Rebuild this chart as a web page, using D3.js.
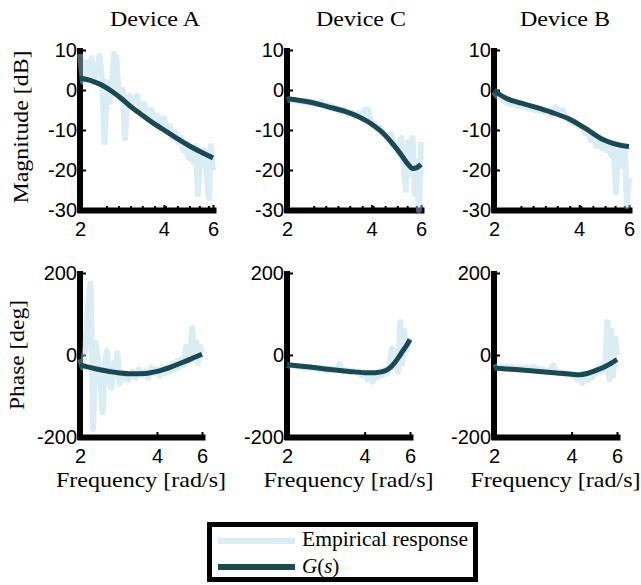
<!DOCTYPE html>
<html><head><meta charset="utf-8">
<script src="https://cdn.jsdelivr.net/npm/d3@7"></script>
<style>body{margin:0;background:#fff}</style>
</head><body><svg id="c" width="641" height="585"></svg>
<script>
// ---------- data ----------
const titles = ["Device A", "Device C", "Device B"];
const xTicks = [2, 4, 6];
const xMinorTicks = [2.5, 2.76, 3.05, 3.36, 3.72, 4.07, 4.49, 4.96, 5.38, 5.8];
const magTicks = [10, 0, -10, -20, -30];
const phaseTicks = [200, 0, -200];

const FREQ = [2.00,2.05,2.10,2.15,2.20,2.25,2.30,2.35,2.40,2.45,2.50,2.55,2.60,2.65,2.70,2.75,2.80,2.85,2.90,2.95,3.00,
  3.1,3.2,3.3,3.4,3.5,3.6,3.7,3.8,3.9,4.0,4.1,4.2,4.3,4.4,4.5,4.6,4.7,4.8,4.9,5.0,5.1,5.2,5.3,5.4,5.5,5.6,5.7,5.8,5.9,6.0];

const MAG_A_EMP = [9,2,7,3,8,2,5,8.5,3,-13,2,-3,0,9,8,-1,-2,0,-12,-2,-1.5,
  -3,-1.5,-5,-3.5,-6,-5,-7.5,-6.5,-9,-7,-10,-9,-12,-10.5,-13,-12,-15,-14,-17,-15,-18,-14,-26,-16,-19,-15,-22,-27,-14,-20];
const MAG_C_EMP = [-2.5,-2.3,-2.8,-2.6,-2.9,-2.7,-3.1,-2.8,-3.3,-3.0,-3.6,-3.2,-3.5,-2.9,-3.6,-4.2,-3.8,-4.5,-4.0,-4.8,-4.5,
  -5.5,-4.8,-6.0,-5.6,-6.6,-5.8,-7.0,-4.8,-5.0,-8.8,-8.5,-9.8,-9.5,-11.0,-11.2,-12.5,-11.0,-14.5,-13.5,-16,-12,-19,-25,-13,-21,-12,-26,-18,-30,-13];
const MAG_B_EMP = [-0.5,-1.5,-2.0,-2.6,-3.0,-3.2,-3.6,-3.5,-3.9,-4.0,-4.2,-4.0,-4.5,-4.3,-4.8,-4.6,-5.0,-4.8,-5.3,-5.1,-5.5,
  -5.0,-6.2,-4.2,-6.5,-5.0,-7.2,-7.6,-8.2,-8.0,-9.2,-9.5,-10.8,-10.2,-12.5,-11.5,-14.0,-12.8,-14.5,-13.5,-15.0,-14.0,-16.5,-15.0,-25.5,-16.0,-14.5,-19.0,-15.0,-29.0,-22.0];
const PH_A_EMP = [-10,-30,20,120,175,-180,30,-10,-60,-140,-20,10,-60,-80,-20,-50,5,-70,-40,-60,-45,
  -60,-40,-55,-35,-50,-40,-55,-30,-45,-35,-50,-30,-45,-30,-40,-20,-35,-15,-30,-10,-25,20,-15,10,65,-10,30,-20,20,5];
const PH_C_EMP = [-24,-26,-25,-28,-26,-30,-27,-31,-29,-32,-30,-33,-31,-35,-32,-35,-33,-37,-34,-36,-35,
  -38,-22,-40,-37,-41,-38,-44,-40,-50,-42,-60,-45,-65,-48,-55,-40,-50,-35,-45,-25,15,-30,10,-40,80,-20,60,10,30,40];
const PH_B_EMP = [-32,-28,-34,-27,-33,-28,-35,-29,-34,-30,-36,-31,-35,-30,-37,-32,-36,-30,-38,-33,-40,
  -35,-42,-38,-25,-42,-45,-42,-48,-45,-50,-48,-60,-50,-68,-45,-62,-42,-55,-38,-45,-30,-40,-25,-35,80,-60,60,-50,40,0];

const G_MAG_A_F = [2,2.2,2.4,2.6,2.8,3.0,3.3,3.6,4.0,4.5,5.0,5.5,6.0];
const G_MAG_A   = [3,2.3,1.2,-0.3,-2.0,-3.8,-6.0,-7.9,-10,-12.3,-14.2,-15.7,-17];
const G_MAG_C_F = [2,2.4,2.8,3.2,3.6,4.0,4.4,4.8,5.1,5.4,5.6,5.8,6.0];
const G_MAG_C   = [-2.2,-3,-4.2,-5.3,-6.7,-8.5,-10.8,-13.8,-16.2,-18.6,-19.6,-19.4,-18.6];
const G_MAG_B_F = [2,2.1,2.2,2.35,2.5,2.8,3.2,3.7,4.25,4.83,5.2,5.5,5.8,6.0];
const G_MAG_B   = [0,-1.2,-2,-2.8,-3.3,-4.3,-5.6,-7.3,-9.8,-12.3,-13.2,-13.7,-14,-14.1];
const G_PH_A_F = [2,2.4,2.8,3.2,3.6,4.0,4.5,5.0,5.5,6.0];
const G_PH_A   = [-24,-36,-43,-46,-45,-40,-30,-19,-8,2];
const G_PH_C_F = [2,2.5,3.0,3.5,4.0,4.4,4.8,5.0,5.2,5.4,5.6,5.8,6.0];
const G_PH_C   = [-24,-30,-36,-40,-43,-43,-39,-32,-21,-7,8,22,38];
const G_PH_B_F = [2,2.5,3.0,3.5,4.0,4.3,4.6,5.0,5.4,5.7,6.0];
const G_PH_B   = [-32,-36,-40,-44,-47,-48,-45,-37,-28,-20,-11];

const legendLabels = ["Empirical response", "G(s)"];

// ---------- layout ----------
const EMP_COLOR = "lightblue", EMP_OPACITY = 0.45, G_COLOR = "#1b4953";
const magX = [[80,213],[287,421],[494,629]];
const phX  = [[80,202],[287,410],[494,617]];
const titleX = [155, 361, 565];
const magY = [210, 50], phY = [437, 273];

const svg = d3.select("#c");
const sans = "'Liberation Sans', Arial, sans-serif";
const serif = "'Liberation Serif', 'Times New Roman', serif";
const fmt = d => (d < 0 ? "-" + Math.abs(d) : String(d));

const panels = [
  {c:0, mag:true,  emp:MAG_A_EMP, gf:G_MAG_A_F, g:G_MAG_A},
  {c:1, mag:true,  emp:MAG_C_EMP, gf:G_MAG_C_F, g:G_MAG_C},
  {c:2, mag:true,  emp:MAG_B_EMP, gf:G_MAG_B_F, g:G_MAG_B},
  {c:0, mag:false, emp:PH_A_EMP, gf:G_PH_A_F, g:G_PH_A},
  {c:1, mag:false, emp:PH_C_EMP, gf:G_PH_C_F, g:G_PH_C},
  {c:2, mag:false, emp:PH_B_EMP, gf:G_PH_B_F, g:G_PH_B},
];

panels.forEach(p => {
  const xr = p.mag ? magX[p.c] : phX[p.c];
  const x = d3.scaleLog().domain([2, 6]).range(xr);
  const y = d3.scaleLinear().domain(p.mag ? [-30, 10] : [-200, 200]).range(p.mag ? magY : phY);
  const g = svg.append("g");

  // left axis
  const ya = d3.axisLeft(y).tickValues(p.mag ? magTicks : phaseTicks).tickFormat(fmt)
    .tickSize(-6).tickSizeOuter(0).tickPadding(3);
  const yg = g.append("g").attr("transform", `translate(${xr[0]},0)`).call(ya);
  yg.select(".domain").attr("stroke-width", 6).attr("stroke-linecap", "square")
    .attr("d", `M0,${y.range()[1]+1}V${y.range()[0]}`);
  yg.selectAll(".tick line").attr("stroke-width", 2);
  yg.selectAll("text").attr("font-family", sans).attr("font-size", 20).attr("fill", "#000");

  // bottom axis
  const xa = d3.axisBottom(x).tickValues(xTicks).tickFormat(fmt).tickSize(-5).tickSizeOuter(0).tickPadding(12);
  const xg = g.append("g").attr("transform", `translate(0,${y.range()[0]})`).call(xa);
  xg.select(".domain").attr("stroke-width", 6).attr("stroke-linecap", "square");
  xg.selectAll(".tick line").attr("stroke-width", 2);
  xg.selectAll("text").attr("font-family", sans).attr("font-size", 20).attr("fill", "#000");
  if (p.mag) {
    xg.selectAll(".minor").data(xMinorTicks).enter().append("line")
      .attr("x1", d => x(d)).attr("x2", d => x(d)).attr("y1", 0).attr("y2", -4)
      .attr("stroke", "#000").attr("stroke-width", 2);
  }

  // empirical
  const pts = FREQ.map((f, i) => [f, p.emp[i]]);
  g.append("path").datum(pts)
    .attr("d", d3.line().x(d => x(d[0])).y(d => y(d[1])))
    .attr("fill", "none").attr("stroke", EMP_COLOR).attr("stroke-opacity", EMP_OPACITY)
    .attr("stroke-width", 6).attr("stroke-linejoin", "round");

  // G(s)
  const gp = p.gf.map((f, i) => [f, p.g[i]]);
  g.append("path").datum(gp)
    .attr("d", d3.line().x(d => x(d[0])).y(d => y(d[1])).curve(d3.curveMonotoneX))
    .attr("fill", "none").attr("stroke", G_COLOR).attr("stroke-width", 5);

  if (p.mag) {
    svg.append("text").attr("x", titleX[p.c]).attr("y", 26).attr("text-anchor", "middle")
      .attr("font-family", serif).attr("font-size", 22).attr("textLength", 90).attr("lengthAdjust", "spacingAndGlyphs")
      .text(titles[p.c]);
  } else {
    svg.append("text").attr("x", (xr[0] + xr[1]) / 2).attr("y", 487).attr("text-anchor", "middle")
      .attr("font-family", serif).attr("font-size", 22).attr("textLength", 170).attr("lengthAdjust", "spacingAndGlyphs")
      .text("Frequency [rad/s]");
  }
});

// y labels
svg.append("text").attr("transform", "translate(28,127) rotate(-90)").attr("text-anchor", "middle")
  .attr("font-family", serif).attr("font-size", 22).attr("textLength", 153).attr("lengthAdjust", "spacingAndGlyphs")
  .text("Magnitude [dB]");
svg.append("text").attr("transform", "translate(24,355) rotate(-90)").attr("text-anchor", "middle")
  .attr("font-family", serif).attr("font-size", 22).attr("textLength", 110).attr("lengthAdjust", "spacingAndGlyphs")
  .text("Phase [deg]");

// legend
const lg = svg.append("g");
lg.append("rect").attr("x", 209.5).attr("y", 524.5).attr("width", 266).attr("height", 55)
  .attr("fill", "#fff").attr("stroke", "#000").attr("stroke-width", 5);
lg.append("line").attr("x1", 218).attr("x2", 295).attr("y1", 541).attr("y2", 541)
  .attr("stroke", EMP_COLOR).attr("stroke-opacity", EMP_OPACITY).attr("stroke-width", 6);
lg.append("line").attr("x1", 218).attr("x2", 295).attr("y1", 567).attr("y2", 567)
  .attr("stroke", G_COLOR).attr("stroke-width", 6);
lg.append("text").attr("x", 302).attr("y", 546).attr("font-family", serif).attr("font-size", 21)
  .attr("textLength", 166).attr("lengthAdjust", "spacingAndGlyphs").text(legendLabels[0]);
const gt = lg.append("text").attr("x", 302).attr("y", 573).attr("font-family", serif).attr("font-size", 21);
gt.append("tspan").attr("font-style", "italic").text("G");
gt.append("tspan").text("(");
gt.append("tspan").attr("font-style", "italic").text("s");
gt.append("tspan").text(")");
</script></body></html>
